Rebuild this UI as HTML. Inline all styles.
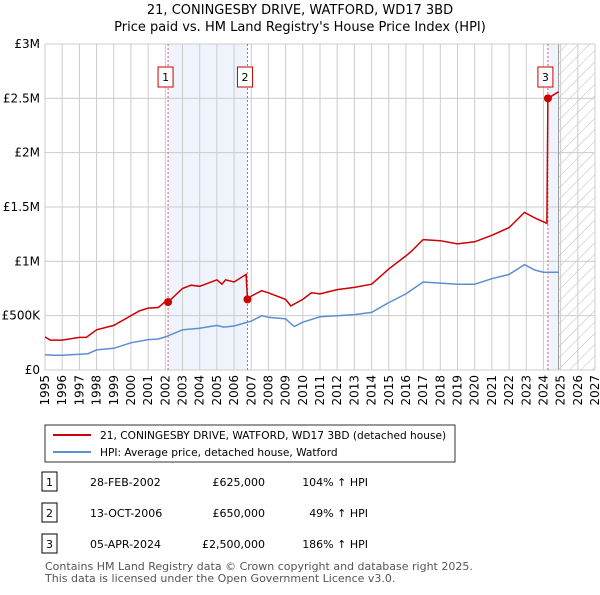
<!DOCTYPE html>
<html><head><meta charset="utf-8"><style>
body{margin:0;background:#fff;font-family:"Liberation Sans","DejaVu Sans",sans-serif;}
svg text{font-family:"DejaVu Sans","Liberation Sans",sans-serif;}
</style></head><body>
<svg width="600" height="590" xmlns="http://www.w3.org/2000/svg" id="chart">
<defs><pattern id="hatch" width="8" height="8" patternUnits="userSpaceOnUse" patternTransform="rotate(45)"><line x1="0" y1="0" x2="0" y2="8" stroke="#bbb" stroke-width="1"/></pattern></defs>
<text x="300" y="14" text-anchor="middle" font-size="13" fill="#000">21, CONINGESBY DRIVE, WATFORD, WD17 3BD</text>
<text x="300" y="31" text-anchor="middle" font-size="13" fill="#000">Price paid vs. HM Land Registry's House Price Index (HPI)</text>
<g id="grid"></g><g id="marks"></g><g id="axes"></g>
<g>
<rect x="45" y="425" width="410" height="37" fill="#fff" stroke="#000" stroke-width="0.8"/>
<line x1="53" y1="435" x2="91" y2="435" stroke="#cc0000" stroke-width="2"/>
<text x="100" y="439" font-size="10.6">21, CONINGESBY DRIVE, WATFORD, WD17 3BD (detached house)</text>
<line x1="53" y1="452" x2="91" y2="452" stroke="#5b8fd3" stroke-width="2"/>
<text x="100" y="456" font-size="10.6">HPI: Average price, detached house, Watford</text>
</g>
<g id="table" font-size="11"></g>
<text x="45" y="570" font-size="11" fill="#555">Contains HM Land Registry data © Crown copyright and database right 2025.</text>
<text x="45" y="582" font-size="11" fill="#555">This data is licensed under the Open Government Licence v3.0.</text>
</svg>
<script>
const hpiYears=[1995,1995.5,1996,1997,1997.5,1998,1999,2000,2001,2001.6,2002,2003,2004,2005,2005.4,2006,2007,2007.6,2008,2009,2009.5,2010,2011,2012,2013,2014,2015,2016,2017,2018,2019,2020,2021,2022,2022.9,2023.5,2024,2024.88];
const hpiValues=[140,135,135,145,150,185,200,250,280,285,305,370,385,410,395,405,450,500,485,470,400,440,490,500,510,530,620,700,810,800,790,790,840,880,970,920,900,900];
const redYears=[1995,1995.3,1996,1997,1997.4,1998,1999,2000,2000.5,2001,2001.6,2002,2002.16,2003,2003.5,2004,2005,2005.3,2005.5,2006,2006.7,2006.78,2007,2007.6,2008,2009,2009.3,2010,2010.5,2011,2012,2013,2014,2015,2016,2016.3,2017,2018,2019,2020,2021,2022,2022.9,2023.5,2024.2,2024.26,2024.88];
const redValues=[305,275,275,300,300,370,410,500,545,570,575,630,625,750,780,770,830,790,830,810,880,650,680,730,710,650,590,650,710,700,740,760,790,930,1050,1090,1200,1190,1160,1180,1240,1310,1450,1400,1350,2500,2560];
const saleLabels=["1","2","3"];
const saleYears=[2002.16,2006.78,2024.26];
const saleDates=["28-FEB-2002","13-OCT-2006","05-APR-2024"];
const salePrices=[625,650,2500];
const salePriceText=["£625,000","£650,000","£2,500,000"];
const saleHpiText=["104% ↑ HPI","49% ↑ HPI","186% ↑ HPI"];
const yTicks=[0,500,1000,1500,2000,2500,3000];
const yTickLabels=["£0","£500K","£1M","£1.5M","£2M","£2.5M","£3M"];
const xTicks=[];for(let y=1995;y<=2027;y++)xTicks.push(y);
const dataEnd=2024.88;

const NS="http://www.w3.org/2000/svg";
const L=45,R=595,T=44,B=370,X0=1995,X1=2027,YMAX=3000;
const sx=v=>L+(v-X0)/(X1-X0)*(R-L);
const sy=v=>B-v/YMAX*(B-T);
function mk(tag,a,p){const e=document.createElementNS(NS,tag);for(const k in a)e.setAttribute(k,a[k]);p.appendChild(e);return e;}
const grid=document.getElementById('grid'),marks=document.getElementById('marks'),axes=document.getElementById('axes'),table=document.getElementById('table');
let sh=mk('rect',{x:sx(saleYears[0]),y:T,width:sx(saleYears[1])-sx(saleYears[0]),height:B-T,fill:'#eef3fc'},grid);


let sh2=mk('rect',{x:sx(saleYears[2]),y:T,width:sx(dataEnd)-sx(saleYears[2]),height:B-T,fill:'#eef3fc'},grid);


let ht=mk('rect',{x:sx(dataEnd),y:T,width:R-sx(dataEnd),height:B-T,fill:'url(#hatch)'},grid);


xTicks.forEach(y=>{mk('line',{x1:sx(y),x2:sx(y),y1:T,y2:B,stroke:'#ccc','stroke-width':1},grid);});
yTicks.forEach(v=>{mk('line',{x1:L,x2:R,y1:sy(v),y2:sy(v),stroke:'#ccc','stroke-width':1},grid);});
mk('line',{x1:sx(dataEnd),x2:sx(dataEnd),y1:T,y2:B,stroke:'#999','stroke-width':1},grid);
mk('rect',{x:L,y:T,width:R-L,height:B-T,fill:'none',stroke:'#ccc'},grid);
saleYears.forEach((y,i)=>{
 const l=mk('line',{x1:sx(y),x2:sx(y),y1:T,y2:B,stroke:'#e06060','stroke-width':1,'stroke-dasharray':'2,2'},grid);
 
 
 const g=mk('g',{},marks);
 
 
 mk('rect',{x:sx(y)-10,y:67,width:15,height:20,fill:'#fff',stroke:'#cc0000'},g);
 const t=mk('text',{x:sx(y)-2.5,y:81,'font-size':11,'text-anchor':'middle'},g);t.textContent=saleLabels[i];
});
const hp=mk('path',{d:hpiYears.map((y,i)=>(i?'L':'M')+sx(y).toFixed(1)+','+sy(hpiValues[i]).toFixed(1)).join(''),fill:'none',stroke:'#5b8fd3','stroke-width':1.5},marks);


const rp=mk('path',{d:redYears.map((y,i)=>(i?'L':'M')+sx(y).toFixed(1)+','+sy(redValues[i]).toFixed(1)).join(''),fill:'none',stroke:'#cc0000','stroke-width':1.5},marks);


saleYears.forEach((y,i)=>{
 const c=mk('circle',{cx:sx(y),cy:sy(salePrices[i]),r:4,fill:'#cc0000'},marks);
 
 
});
yTicks.forEach((v,i)=>{const t=mk('text',{x:40,y:sy(v)+4,'font-size':12,'text-anchor':'end'},axes);t.textContent=yTickLabels[i];
 
 });
xTicks.forEach(y=>{const t=mk('text',{x:0,y:0,'font-size':12,'text-anchor':'end',transform:`translate(${sx(y)+4},375) rotate(-90)`},axes);t.textContent=y;
 
 });
saleLabels.forEach((s,i)=>{
 const yy=482+i*31;
 const g=mk('g',{},table);
 
 
 mk('rect',{x:42,y:yy-10,width:15,height:19,fill:'#fff',stroke:'#000'},g);
 let t=mk('text',{x:49.5,y:yy+4,'text-anchor':'middle'},g);t.textContent=s;
 t=mk('text',{x:90,y:yy+4},g);t.textContent=saleDates[i];
 t=mk('text',{x:265,y:yy+4,'text-anchor':'end'},g);t.textContent=salePriceText[i];
 t=mk('text',{x:368,y:yy+4,'text-anchor':'end'},g);t.textContent=saleHpiText[i];
});
</script>
</body></html>
